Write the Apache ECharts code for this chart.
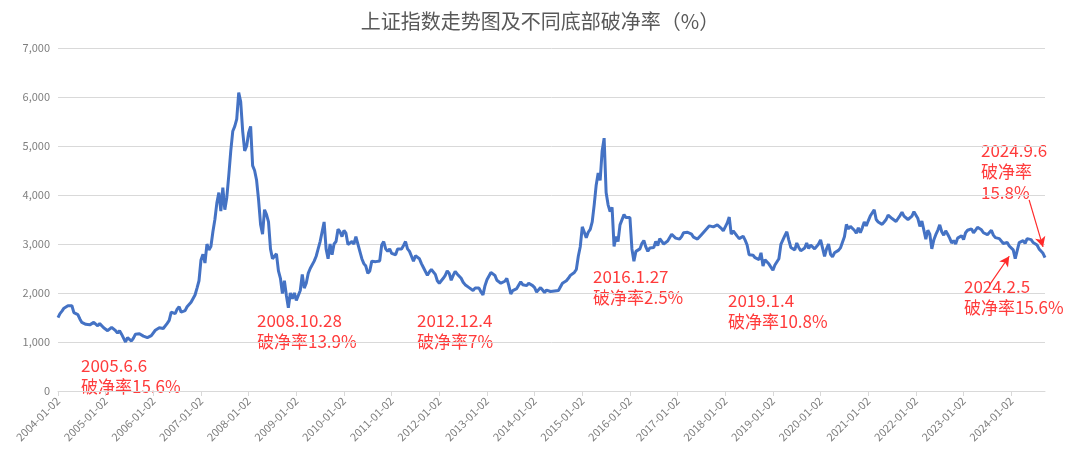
<!DOCTYPE html>
<html><head><meta charset="utf-8">
<script src="https://cdn.jsdelivr.net/npm/echarts@6/dist/echarts.min.js"></script>
<style>html,body{margin:0;padding:0;background:#fff}#c{width:1080px;height:458px}</style>
</head><body><div id="c"></div>
<script>
const chartTitle = '上证指数走势图及不同底部破净率（%）';
// Semi-monthly readings (around the 2nd and 16th of each month)
const v2004 = [1497,1580,1630,1690,1720,1740,1765,1740,1600,1560,1560,1470,1400,1390,1360,1340,1350,1320,1400,1370,1330,1375,1340,1290];
const v2005 = [1266,1230,1190,1300,1305,1230,1180,1230,1160,1080,1000,1090,1060,1020,1080,1160,1160,1170,1155,1120,1100,1090,1100,1130];
const v2006 = [1161,1240,1280,1290,1300,1275,1300,1380,1440,1610,1640,1580,1670,1720,1610,1590,1640,1720,1760,1810,1850,1960,2100,2250];
const v2007 = [2675,2790,2612,2998,2880,2950,3250,3500,3840,4050,3670,4150,3700,3950,4400,4900,5300,5400,5550,6092,5900,5300,4900,5000];
const v2008 = [5270,5400,4600,4500,4300,3900,3400,3200,3700,3600,3450,2900,2700,2750,2800,2450,2300,1990,2250,1950,1700,2000,1880,2000];
const v2009 = [1850,1950,2050,2380,2100,2200,2400,2500,2500,2650,2750,2900,3050,3250,3450,2900,2700,3000,2780,3000,3050,3300,3250,3150];
const v2010 = [3277,3220,2990,3020,3050,3000,3150,3150,2850,2700,2600,2550,2400,2450,2650,2650,2640,2600,2655,2980,3050,2900,2850,2900];
const v2011 = [2808,2800,2780,2900,2910,2900,2970,3050,2900,2850,2750,2650,2760,2800,2700,2600,2520,2480,2360,2430,2480,2480,2380,2250];
const v2012 = [2199,2250,2300,2360,2450,2400,2260,2360,2440,2390,2370,2300,2220,2170,2130,2110,2070,2050,2100,2110,2100,2020,1960,2150];
const v2013 = [2269,2300,2420,2430,2360,2260,2230,2200,2180,2240,2300,2150,1980,2050,2030,2090,2100,2230,2170,2200,2150,2200,2200,2150];
const v2014 = [2109,2020,2040,2110,2060,2010,2060,2100,2030,2030,2040,2060,2050,2060,2200,2220,2250,2300,2360,2370,2420,2480,2750,2950];
const v2015 = [3350,3350,3130,3240,3300,3450,3800,4200,4450,4300,4900,5160,4050,3800,3660,3750,2950,3150,3050,3390,3400,3600,3540,3580];
const v2016 = [3539,2900,2650,2850,2850,2900,3010,3070,2940,2850,2920,2880,2930,3050,2970,3110,3070,3000,3000,3060,3100,3200,3240,3120];
const v2017 = [3104,3100,3150,3230,3230,3240,3220,3200,3140,3110,3100,3130,3190,3200,3280,3260,3370,3350,3350,3380,3390,3400,3320,3270];
const v2018 = [3349,3430,3550,3200,3270,3270,3160,3110,3080,3160,3080,2980,2780,2800,2770,2720,2720,2680,2820,2550,2680,2680,2590,2600];
const v2019 = [2465,2570,2610,2700,2990,3030,3170,3250,3080,2930,2900,2880,3020,2930,2860,2820,2920,3020,2910,2980,2960,2900,2880,3000];
const v2020 = [3085,3080,2746,2900,3000,2790,2740,2820,2860,2870,2920,2930,3150,3400,3310,3360,3400,3280,3220,3330,3230,3330,3450,3370];
const v2021 = [3473,3570,3530,3700,3500,3450,3480,3400,3450,3500,3590,3550,3520,3540,3460,3520,3580,3650,3570,3570,3500,3530,3570,3660];
const v2022 = [3640,3520,3360,3470,3450,3100,3280,3200,2900,3080,3190,3280,3390,3250,3180,3270,3200,3120,3020,3070,3000,3120,3160,3170];
const v2023 = [3089,3230,3280,3250,3310,3230,3280,3340,3320,3290,3230,3270,3190,3210,3280,3180,3130,3120,3110,3070,3010,3050,3030,2960];
const v2024 = [2962,2880,2700,2865,3030,3050,3070,3010,3110,3150,3090,3030,2990,2980,2900,2880,2810,2720];

const startYear = 2004;
const yAxisMax = 7000, yAxisStep = 1000;

const annoTexts = ['2005.6.6\n破净率15.6%','2008.10.28\n破净率13.9%','2012.12.4\n破净率7%','2016.1.27\n破净率2.5%','2019.1.4\n破净率10.8%','2024.2.5\n破净率15.6%','2024.9.6\n破净率\n15.8%'];
const annoPos = [[81,355],[257,310],[417,310],[593,266],[728,290],[964,276],[981,140]];
// arrows: [fromDate, fromValue, toDate, toValue]
const arrows = [['2023-07-16',2160,'2023-12-16',2750],['2024-05-16',3900,'2024-09-02',2940]];

const yearArrays = [v2004,v2005,v2006,v2007,v2008,v2009,v2010,v2011,v2012,v2013,v2014,v2015,v2016,v2017,v2018,v2019,v2020,v2021,v2022,v2023,v2024];
const categories = [], values = [];
yearArrays.forEach((arr, i) => {
  const yr = startYear + i;
  arr.forEach((v, j) => {
    const m = Math.floor(j / 2) + 1;
    categories.push(yr + '-' + String(m).padStart(2, '0') + '-' + (j % 2 === 0 ? '02' : '16'));
    values.push(v);
  });
});
const isYearStart = (idx, val) => String(val).endsWith('-01-02');

const chart = echarts.init(document.getElementById('c'));
const FONT = '"Noto Sans CJK SC","Noto Sans",sans-serif';
chart.setOption({
  animation: false,
  backgroundColor: '#fff',
  title: { text: chartTitle, left: 'center', top: 6, textStyle: { fontSize: 20, fontWeight: 'normal', color: '#595959', fontFamily: FONT } },
  grid: { left: 58, right: 35, top: 48, bottom: 67, containLabel: false },
  xAxis: {
    type: 'category', data: categories, boundaryGap: false,
    axisLine: { lineStyle: { color: '#d9d9d9' } },
    axisTick: { interval: isYearStart, length: 5, lineStyle: { color: '#d9d9d9' } },
    axisLabel: { interval: isYearStart, rotate: 45, color: '#7f7f7f', fontSize: 11, fontFamily: FONT, margin: 8,
      formatter: v => v },
    splitLine: { show: false }
  },
  yAxis: {
    type: 'value', min: 0, max: yAxisMax, interval: yAxisStep,
    axisLine: { show: false }, axisTick: { show: false },
    axisLabel: { color: '#7f7f7f', fontSize: 11, fontFamily: FONT, margin: 8,
      formatter: v => v.toLocaleString('en-US') },
    splitLine: { lineStyle: { color: '#d9d9d9', width: 1 } }
  },
  series: [{
    type: 'line', data: values, showSymbol: false, symbol: 'none',
    lineStyle: { color: '#4472C4', width: 3 }, itemStyle: { color: '#4472C4' },
    markLine: {
      silent: true, symbol: ['none', 'arrow'], symbolSize: [8, 10],
      label: { show: false },
      lineStyle: { color: '#ff2a2a', width: 1.2, type: 'solid' },
      emphasis: { disabled: true },
      data: arrows.map(a => [{ coord: [a[0], a[1]] }, { coord: [a[2], a[3]] }])
    }
  }],
  graphic: annoTexts.map((t, i) => ({
    type: 'text', left: annoPos[i][0], top: annoPos[i][1], silent: true,
    style: { text: t, fill: '#ff3b3b', fontSize: 17, fontFamily: FONT, lineHeight: 21 }
  }))
});
</script></body></html>
